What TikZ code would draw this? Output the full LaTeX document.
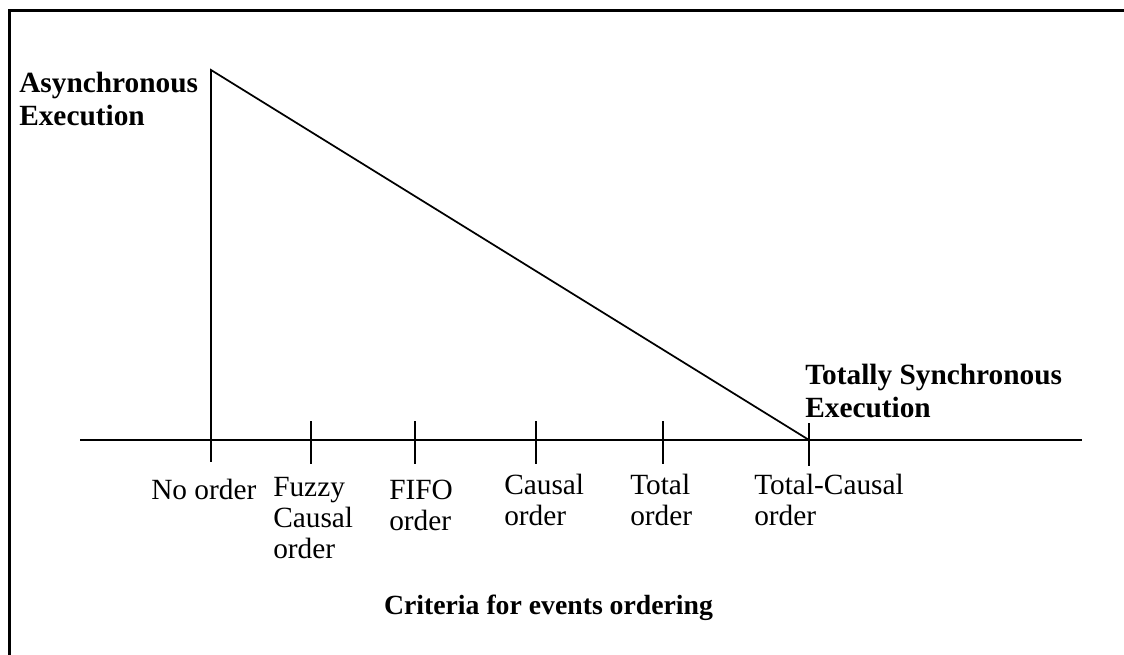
\documentclass[tikz,border=0pt]{standalone}
\usepackage{fontspec}
\setmainfont{Liberation Serif}
\begin{document}
\begin{tikzpicture}[x=0.75pt,y=-0.75pt,
  line/.style={line width=1.3pt,line cap=rect},
  frame/.style={line width=1.8pt},
  ticklabel/.style={anchor=north west,inner sep=0pt,align=left,
    font=\fontsize{22}{23.25}\selectfont},
  heading/.style={anchor=north west,inner sep=0pt,align=left,
    font=\fontsize{22}{24.4}\selectfont\bfseries}]
\useasboundingbox (0,0) rectangle (1124,655);

% outer frame: only its top and left sides lie within the page
\coordinate (frTR) at (1124,10.5);
\coordinate (frTL) at (9.5,10.5);
\coordinate (frBL) at (9.5,655);
\draw[frame] (frTR) -- (frTL) -- (frBL);

% axis of ordering criteria
\coordinate (axL) at (81,440);
\coordinate (axR) at (1081,440);
\draw[line] (axL) -- (axR);

% triangle: asynchronous apex down to the totally synchronous point
\coordinate (apex) at (211,70);
\coordinate (t0) at (211,461);
\coordinate (tc) at (809,440);
\draw[line] (t0) -- (apex) -- (tc);

% tick marks
\foreach \name/\x in {t1/311,t2/415,t3/536,t4/663}{
  \coordinate (\name top) at (\x,422);
  \coordinate (\name bot) at (\x,463);
  \draw[line] (\name top) -- (\name bot);
}
\coordinate (t5top) at (809,424);
\coordinate (t5bot) at (809,465);
\draw[line] (t5top) -- (t5bot);

% tick labels
\node[ticklabel] (l0) at (151,479) {No order};
\node[ticklabel] (l1) at (273,477) {Fuzzy\\Causal\\order};
\node[ticklabel] (l2) at (389,480) {FIFO\\order};
\node[ticklabel] (l3) at (504,474) {Causal\\order};
\node[ticklabel] (l4) at (630,474) {Total\\order};
\node[ticklabel] (l5) at (754,474) {Total-Causal\\order};

% headings
\node[heading] (async) at (19,72) {Asynchronous\\Execution};
\node[heading] (sync) at (805,364) {Totally Synchronous\\Execution};
\node[heading,anchor=north,font=\fontsize{20.8}{24}\selectfont\bfseries]
  (crit) at (548.5,595) {Criteria for events ordering};
\end{tikzpicture}
\end{document}
